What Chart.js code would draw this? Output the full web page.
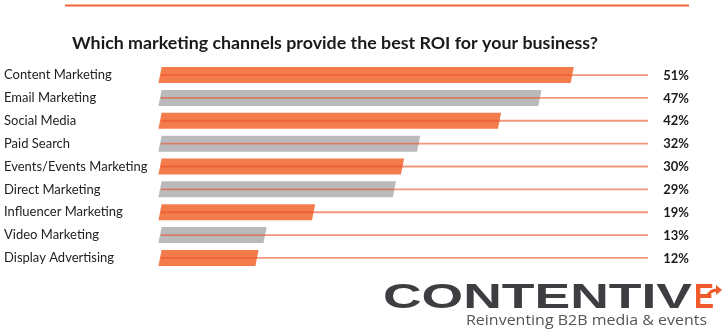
<!DOCTYPE html>
<html><head><meta charset="utf-8">
<script src="https://cdn.jsdelivr.net/npm/chart.js@4"></script>
<style>html,body{margin:0;padding:0;background:#fff;overflow:hidden}#c{display:block}</style>
</head><body><canvas id="c" width="724" height="332"></canvas>
<script>
const titleText = 'Which marketing channels provide the best ROI for your business?';
const categories = ['Content Marketing','Email Marketing','Social Media','Paid Search','Events/Events Marketing','Direct Marketing','Influencer Marketing','Video Marketing','Display Advertising'];
const values = [51,47,42,32,30,29,19,13,12];
const valueLabels = ['51%','47%','42%','32%','30%','29%','19%','13%','12%'];
const logoMain = 'CONTENTIV';
const logoLast = 'E';
const tagline = 'Reinventing B2B media & events';

const ORANGE = '#f47c4c', GRAY = '#bababc';

const drawPlugin = {
  id: 'customDraw',
  afterDatasetsDraw(chart) {
    const ctx = chart.ctx, area = chart.chartArea;
    const meta = chart.getDatasetMeta(0);
    ctx.save();
    meta.data.forEach((bar, i) => {
      const p = bar.getProps(['x','y','base','height'], true);
      const top = p.y - p.height/2, bot = p.y + p.height/2, sk = 1.6;
      ctx.fillStyle = i % 2 ? GRAY : ORANGE;
      ctx.beginPath();
      ctx.moveTo(p.base + sk, top);
      ctx.lineTo(p.x + sk, top);
      ctx.lineTo(p.x - sk, bot);
      ctx.lineTo(p.base - sk, bot);
      ctx.closePath();
      ctx.fill();
      ctx.strokeStyle = 'rgba(235,80,40,0.6)';
      ctx.lineWidth = 1.8;
      ctx.beginPath();
      ctx.moveTo(p.base + 1, p.y);
      ctx.lineTo(area.right + 3, p.y);
      ctx.stroke();
      ctx.fillStyle = '#1c1c1c';
      ctx.font = 'bold 13px Lato';
      ctx.textAlign = 'right';
      ctx.textBaseline = 'middle';
      ctx.fillText(valueLabels[i], area.right + 44, p.y + 0.5);
    });
    // top rule
    ctx.strokeStyle = '#f0643c';
    ctx.lineWidth = 2;
    ctx.beginPath(); ctx.moveTo(65, 5.5); ctx.lineTo(689, 5.5); ctx.stroke();
    // title
    ctx.fillStyle = '#1a1a1a';
    ctx.font = 'bold 17px Lato';
    ctx.textAlign = 'left';
    ctx.textBaseline = 'middle';
    let w = ctx.measureText(titleText).width;
    ctx.save();
    ctx.translate(72, 44); ctx.scale(526 / w, 1);
    ctx.fillText(titleText, 0, 0);
    ctx.restore();
    // logo
    ctx.textBaseline = 'alphabetic';
    ctx.font = 'bold 35px "Liberation Sans"';
    w = ctx.measureText(logoMain).width;
    ctx.save();
    ctx.translate(383, 308); ctx.scale(309 / w, 1);
    ctx.fillStyle = '#3d3d42';
    ctx.fillText(logoMain, 0, 0);
    ctx.restore();
    w = ctx.measureText(logoLast).width;
    ctx.save();
    ctx.translate(694, 308); ctx.scale(20 / w, 1);
    ctx.fillStyle = '#ef5a2a';
    ctx.fillText(logoLast, 0, 0);
    ctx.restore();
    // little arrow
    ctx.strokeStyle = '#ef5a2a'; ctx.fillStyle = '#ef5a2a'; ctx.lineWidth = 3;
    ctx.beginPath(); ctx.moveTo(707, 297); ctx.quadraticCurveTo(710, 290, 717, 290); ctx.stroke();
    ctx.beginPath(); ctx.moveTo(716, 285); ctx.lineTo(722, 290); ctx.lineTo(716, 295); ctx.closePath(); ctx.fill();
    // tagline
    ctx.font = '15px "Open Sans"';
    w = ctx.measureText(tagline).width;
    ctx.save();
    ctx.translate(466, 325); ctx.scale(241 / w, 1);
    ctx.fillStyle = '#555558';
    ctx.fillText(tagline, 0, 0);
    ctx.restore();
    ctx.restore();
  }
};

new Chart(document.getElementById('c'), {
  type: 'bar',
  data: {
    labels: categories,
    datasets: [{
      data: values,
      backgroundColor: 'rgba(0,0,0,0)',
      borderWidth: 0,
      barThickness: 16
    }]
  },
  options: {
    indexAxis: 'y',
    responsive: false,
    animation: false,
    events: [],
    layout: { padding: { left: 4, right: 79, top: 63.6, bottom: 62.6 } },
    plugins: { legend: { display: false }, tooltip: { enabled: false }, title: { display: false } },
    scales: {
      x: { display: false, min: 0, max: 60 },
      y: {
        grid: { display: false, drawTicks: false },
        border: { display: false },
        ticks: { crossAlign: 'far', color: '#222', font: { family: 'Lato', size: 13 }, padding: 0 },
        afterFit(scale) { scale.width = 156; }
      }
    }
  },
  plugins: [drawPlugin]
});
</script>
</body></html>
